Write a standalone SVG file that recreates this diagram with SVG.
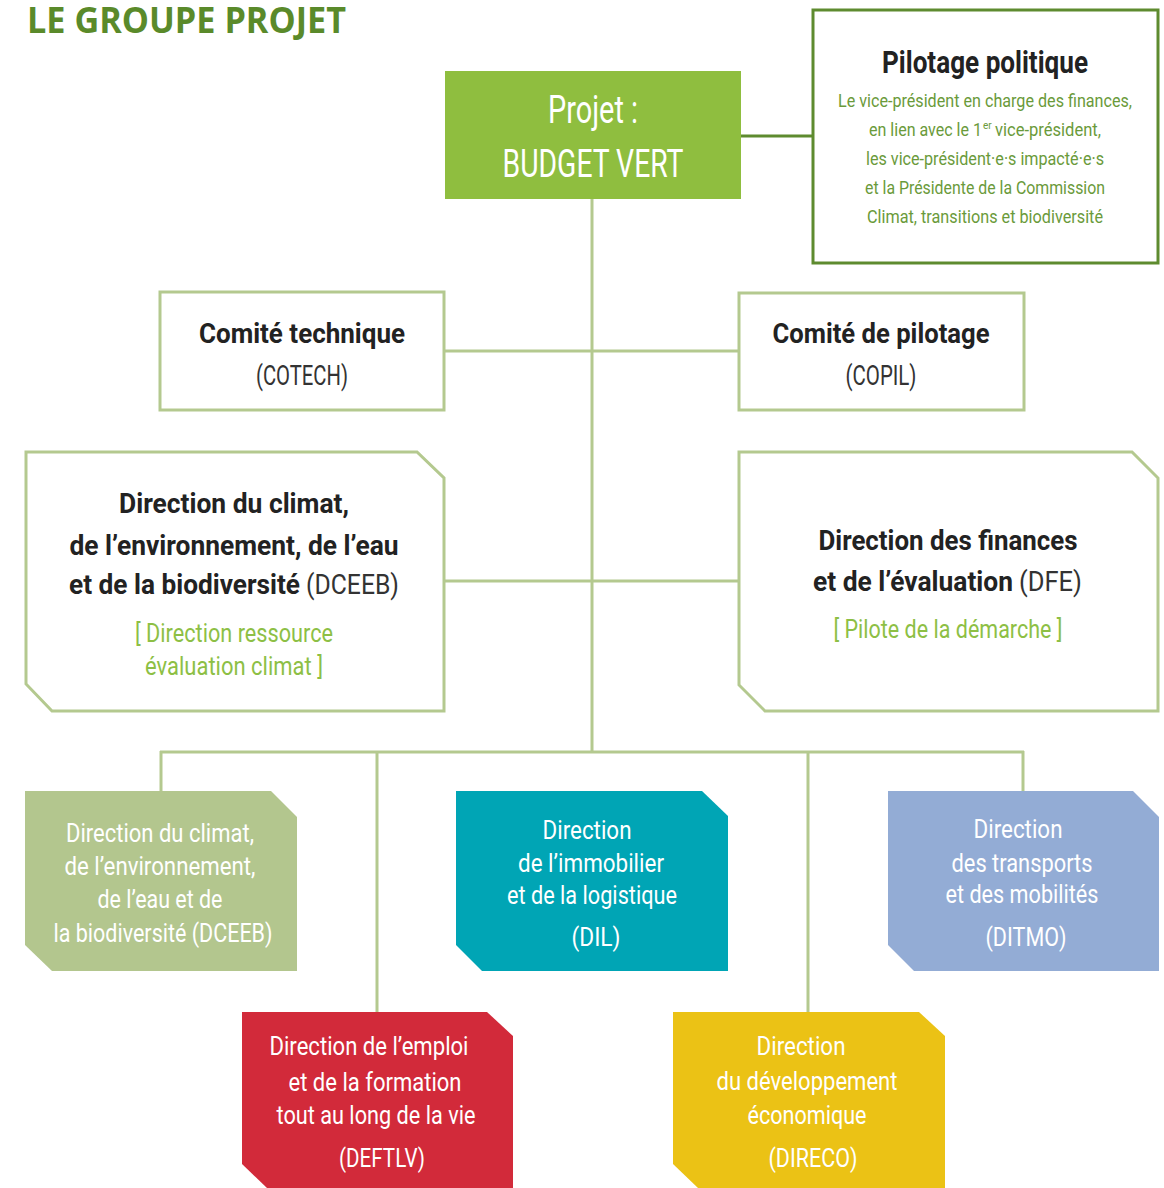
<svg xmlns="http://www.w3.org/2000/svg" width="1164" height="1188" viewBox="0 0 1164 1188">
<style>
text{font-family:Roboto,"Liberation Sans",sans-serif;text-anchor:middle}
.b{font-weight:700;fill:#222}
.r{font-weight:400;fill:#333}
.w{fill:#fff;font-size:25px}
.g{fill:#8dbf45;font-size:26px}
.pg{fill:#6a9a3a;font-size:18.5px}
.lb{fill:#fff;stroke:#b4c98f;stroke-width:3}
.conn line{stroke:#b4c98f;stroke-width:3}
</style>
<rect width="1164" height="1188" fill="#fff"/>
<text x="27" y="33" style="text-anchor:start;font-family:'Open Sans',sans-serif;font-weight:700;font-size:36px;fill:#5a8a2a" textLength="319" lengthAdjust="spacingAndGlyphs">LE GROUPE PROJET</text>

<g class="conn" id="connectors">
<line x1="592" y1="199" x2="592" y2="753"/>
<line x1="444" y1="351" x2="739" y2="351"/>
<line x1="444" y1="581" x2="739" y2="581"/>
<line x1="160" y1="752" x2="1024" y2="752"/>
<line x1="161" y1="751" x2="161" y2="792"/>
<line x1="377" y1="751" x2="377" y2="1012"/>
<line x1="808" y1="751" x2="808" y2="1012"/>
<line x1="1023" y1="751" x2="1023" y2="792"/>
<line x1="741" y1="136" x2="813" y2="136" style="stroke:#5e8b2f"/>
</g>

<g id="projet">
<rect x="445" y="71" width="296" height="128" fill="#8fbe3f"/>
<text x="593" y="123" style="fill:#fff;font-size:38px" textLength="90" lengthAdjust="spacingAndGlyphs">Projet :</text>
<text x="593" y="177" style="fill:#fff;font-size:38px" textLength="181" lengthAdjust="spacingAndGlyphs">BUDGET VERT</text>
</g>

<g id="pilotage">
<rect x="813" y="10" width="345" height="253" fill="#fff" stroke="#5e8b2f" stroke-width="3"/>
<text class="b" x="985" y="73" style="font-size:31px" textLength="206" lengthAdjust="spacingAndGlyphs">Pilotage politique</text>
<text class="pg" x="985" y="107" textLength="294" lengthAdjust="spacingAndGlyphs">Le vice-président en charge des finances,</text>
<text class="pg" x="869" y="136" style="text-anchor:start" textLength="113" lengthAdjust="spacingAndGlyphs">en lien avec le 1</text>
<text class="pg" x="983" y="129" style="text-anchor:start;font-size:10px">er</text>
<text class="pg" x="995" y="136" style="text-anchor:start" textLength="106" lengthAdjust="spacingAndGlyphs">vice-président,</text>
<text class="pg" x="985" y="165" textLength="238" lengthAdjust="spacingAndGlyphs">les vice-président·e·s impacté·e·s</text>
<text class="pg" x="985" y="194" textLength="240" lengthAdjust="spacingAndGlyphs">et la Présidente de la Commission</text>
<text class="pg" x="985" y="223" textLength="236" lengthAdjust="spacingAndGlyphs">Climat, transitions et biodiversité</text>
</g>

<g id="cotech">
<rect class="lb" x="160" y="292" width="284" height="118"/>
<text class="b" x="302" y="343" style="font-size:28px" textLength="206" lengthAdjust="spacingAndGlyphs">Comité technique</text>
<text class="r" x="302" y="385" style="font-size:27px" textLength="92" lengthAdjust="spacingAndGlyphs">(COTECH)</text>
</g>

<g id="copil">
<rect class="lb" x="739" y="293" width="285" height="117"/>
<text class="b" x="881" y="343" style="font-size:28px" textLength="217" lengthAdjust="spacingAndGlyphs">Comité de pilotage</text>
<text class="r" x="881" y="385" style="font-size:27px" textLength="71" lengthAdjust="spacingAndGlyphs">(COPIL)</text>
</g>

<g id="dceeb-ressource">
<path class="lb" d="M26 452 H417 L444 478 V711 H52 L26 684 Z"/>
<text class="b" x="234" y="513" style="font-size:28px" textLength="230" lengthAdjust="spacingAndGlyphs">Direction du climat,</text>
<text class="b" x="234" y="555" style="font-size:28px" textLength="329" lengthAdjust="spacingAndGlyphs">de l’environnement, de l’eau</text>
<text class="b" x="69" y="594" style="font-size:28px;text-anchor:start" textLength="231" lengthAdjust="spacingAndGlyphs">et de la biodiversité</text>
<text class="r" x="306" y="594" style="font-size:28px;text-anchor:start" textLength="93" lengthAdjust="spacingAndGlyphs">(DCEEB)</text>
<text class="g" x="234" y="642" textLength="198" lengthAdjust="spacingAndGlyphs">[ Direction ressource</text>
<text class="g" x="234" y="675" textLength="178" lengthAdjust="spacingAndGlyphs">évaluation climat ]</text>
</g>

<g id="dfe">
<path class="lb" d="M739 452 H1132 L1158 478 V711 H765 L739 685 Z"/>
<text class="b" x="948" y="550" style="font-size:28px" textLength="259" lengthAdjust="spacingAndGlyphs">Direction des finances</text>
<text class="b" x="813" y="591" style="font-size:28px;text-anchor:start" textLength="200" lengthAdjust="spacingAndGlyphs">et de l’évaluation</text>
<text class="r" x="1019" y="591" style="font-size:28px;text-anchor:start" textLength="63" lengthAdjust="spacingAndGlyphs">(DFE)</text>
<text class="g" x="948" y="638" textLength="229" lengthAdjust="spacingAndGlyphs">[ Pilote de la démarche ]</text>
</g>

<g id="dceeb">
<path d="M25 791 H271 L297 817 V971 H52 L25 945 Z" fill="#b3c68e"/>
<text class="w" x="160" y="842" textLength="188" lengthAdjust="spacingAndGlyphs">Direction du climat,</text>
<text class="w" x="160" y="875" textLength="191" lengthAdjust="spacingAndGlyphs">de l’environnement,</text>
<text class="w" x="160" y="908" textLength="125" lengthAdjust="spacingAndGlyphs">de l’eau et de</text>
<text class="w" x="163" y="942" textLength="219" lengthAdjust="spacingAndGlyphs">la biodiversité (DCEEB)</text>
</g>

<g id="dil">
<path d="M456 791 H702 L728 816 V971 H482 L456 945 Z" fill="#00a5b5"/>
<text class="w" x="587" y="839" textLength="89" lengthAdjust="spacingAndGlyphs">Direction</text>
<text class="w" x="591" y="872" textLength="146" lengthAdjust="spacingAndGlyphs">de l’immobilier</text>
<text class="w" x="592" y="904" textLength="170" lengthAdjust="spacingAndGlyphs">et de la logistique</text>
<text class="w" x="596" y="946" textLength="49" lengthAdjust="spacingAndGlyphs">(DIL)</text>
</g>

<g id="ditmo">
<path d="M888 791 H1133 L1159 817 V971 H914 L888 945 Z" fill="#93acd5"/>
<text class="w" x="1018" y="838" textLength="89" lengthAdjust="spacingAndGlyphs">Direction</text>
<text class="w" x="1022" y="872" textLength="141" lengthAdjust="spacingAndGlyphs">des transports</text>
<text class="w" x="1022" y="903" textLength="153" lengthAdjust="spacingAndGlyphs">et des mobilités</text>
<text class="w" x="1026" y="946" textLength="81" lengthAdjust="spacingAndGlyphs">(DITMO)</text>
</g>

<g id="deftlv">
<path d="M242 1012 H487 L513 1036 V1188 H267 L242 1164 Z" fill="#d22a3a"/>
<text class="w" x="369" y="1055" textLength="199" lengthAdjust="spacingAndGlyphs">Direction de l’emploi</text>
<text class="w" x="375" y="1091" textLength="173" lengthAdjust="spacingAndGlyphs">et de la formation</text>
<text class="w" x="376" y="1124" textLength="199" lengthAdjust="spacingAndGlyphs">tout au long de la vie</text>
<text class="w" x="382" y="1167" textLength="86" lengthAdjust="spacingAndGlyphs">(DEFTLV)</text>
</g>

<g id="direco">
<path d="M673 1012 H919 L945 1036 V1188 H698 L673 1164 Z" fill="#ebc215"/>
<text class="w" x="801" y="1055" textLength="89" lengthAdjust="spacingAndGlyphs">Direction</text>
<text class="w" x="807" y="1090" textLength="181" lengthAdjust="spacingAndGlyphs">du développement</text>
<text class="w" x="807" y="1124" textLength="119" lengthAdjust="spacingAndGlyphs">économique</text>
<text class="w" x="813" y="1167" textLength="89" lengthAdjust="spacingAndGlyphs">(DIRECO)</text>
</g>
</svg>
